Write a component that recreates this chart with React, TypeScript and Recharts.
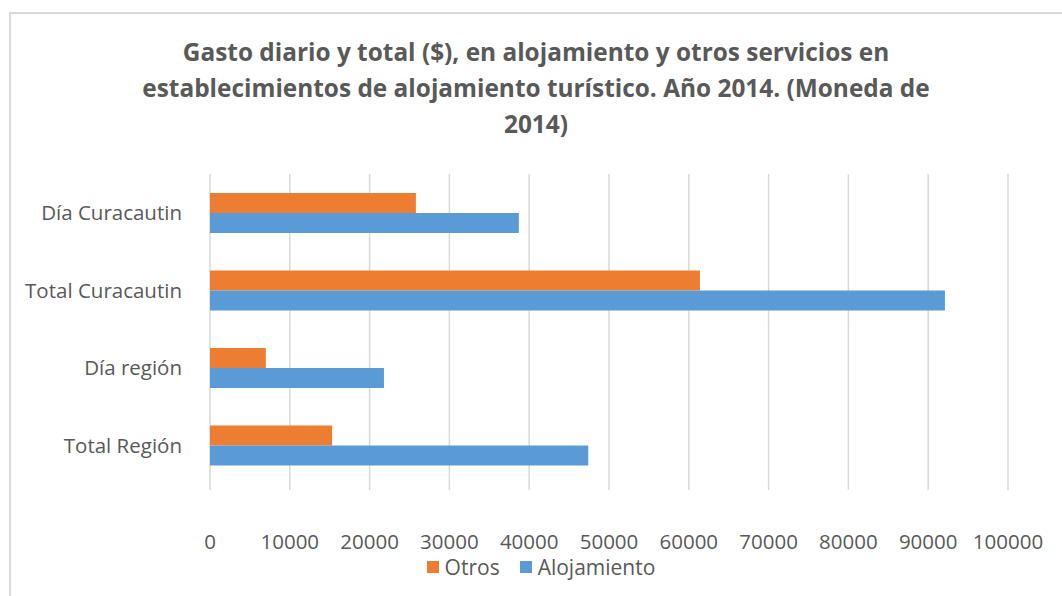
import React from "react";
import { BarChart, Bar, XAxis, YAxis, CartesianGrid } from "recharts";

const categories = ["Día Curacautin", "Total Curacautin", "Día región", "Total Región"];
const otros = [25800, 61400, 7000, 15300];
const alojamiento = [38700, 92100, 21800, 47400];
const xTicks = [0, 10000, 20000, 30000, 40000, 50000, 60000, 70000, 80000, 90000, 100000];
const titleLines = [
  "Gasto diario y total ($), en alojamiento y otros servicios en",
  "establecimientos de alojamiento turístico. Año 2014. (Moneda de",
  "2014)",
];

const data = categories.map((c, i) => ({ name: c, Otros: otros[i], Alojamiento: alojamiento[i] }));

const FONT = "'Open Sans', 'Noto Sans', sans-serif";
const TXT = "#595959";
const ORANGE = "#ED7D31";
const BLUE = "#5B9BD5";

export default function App() {
  return (
    <div style={{ position: "fixed", left: 0, top: 0, width: 1062, height: 596, background: "#fff", overflow: "hidden", fontFamily: FONT }}>
      <div style={{ position: "absolute", left: 9, top: 12, width: 1100, height: 640, border: "2px solid #d9d9d9", boxSizing: "border-box" }} />
      <div style={{ position: "absolute", left: 10, top: 34, width: 1062 - 10, textAlign: "center", color: TXT, fontWeight: 700, fontSize: 24.4, lineHeight: "36px" }}>
        {titleLines.map((l, i) => (
          <div key={i}>{l}</div>
        ))}
      </div>
      <div style={{ position: "absolute", left: 0, top: 0 }}>
        <BarChart
          width={1062}
          height={596}
          data={data}
          layout="vertical"
          margin={{ top: 174, right: 54, bottom: 42, left: 10 }}
          barGap={0}
          barSize={20}
        >
          <CartesianGrid horizontal={false} vertical={true} stroke="#d9d9d9" strokeWidth={1.5} />
          <XAxis
            type="number"
            domain={[0, 100000]}
            ticks={xTicks}
            interval={0}
            axisLine={false}
            tickLine={{ stroke: "#d9d9d9", strokeWidth: 1.5 }}
            tickSize={6}
            tickMargin={44}
            height={70}
            tick={{ fill: TXT, fontSize: 20.5, fontFamily: FONT }}
          />
          <YAxis
            type="category"
            dataKey="name"
            width={200}
            axisLine={false}
            tickLine={false}
            tickMargin={22}
            tick={{ fill: TXT, fontSize: 20.5, fontFamily: FONT }}
          />
          <Bar dataKey="Otros" fill={ORANGE} isAnimationActive={false} />
          <Bar dataKey="Alojamiento" fill={BLUE} isAnimationActive={false} />
        </BarChart>
      </div>
      <div style={{ position: "absolute", left: 0, width: 1082, top: 552, display: "flex", justifyContent: "center", alignItems: "center", color: TXT, fontSize: 21, lineHeight: "30px" }}>
        <span style={{ display: "inline-block", width: 12, height: 12, background: ORANGE, marginRight: 6 }} />
        <span style={{ marginRight: 20 }}>Otros</span>
        <span style={{ display: "inline-block", width: 12, height: 12, background: BLUE, marginRight: 6 }} />
        <span>Alojamiento</span>
      </div>
    </div>
  );
}
